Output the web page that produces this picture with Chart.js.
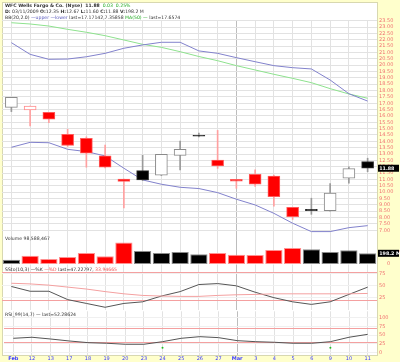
<!DOCTYPE html>
<html>
<head>
<meta charset="utf-8">
<script src="https://cdn.jsdelivr.net/npm/chart.js@4.4.1/dist/chart.umd.min.js"></script>
<style>
  html, body { margin: 0; padding: 0; background: #ffffcc; }
  #wrap { position: relative; width: 400px; height: 362px; overflow: hidden; font-family: 'DejaVu Sans', sans-serif; }
  #sheet { position: absolute; left: 2px; top: 2px; width: 374px; height: 352px; background: #fff; border: 1px solid #d8d8b0; }
  canvas { position: absolute; left: 0; }
  .lbl { position: absolute; left: 5px; font-size: 4.6px; line-height: 5px; white-space: nowrap; color: #333; }
  .g { color: #22aa22; }
  .b { color: #5555bb; }
  .r { color: #ee5555; }
</style>
</head>
<body>
<div id="wrap">
  <div id="sheet"></div>
  <canvas id="c-price" width="400" height="242" style="top:0"></canvas>
  <canvas id="c-vol" width="400" height="44" style="top:226px"></canvas>
  <canvas id="c-ss" width="400" height="56" style="top:258px"></canvas>
  <canvas id="c-rsi" width="400" height="56" style="top:306px"></canvas>

  <div class="lbl" style="top:3px"><b>WFC Wells Fargo &amp; Co. (Nyse)</b> &nbsp;<b>11.88</b> &nbsp;<span class="g">0.03 &nbsp;0.25%</span></div>
  <div class="lbl" style="top:9px"><b>D:</b> 03/11/2009 <b>O:</b>12.35 <b>H:</b>12.67 <b>L:</b>11.60 <b>C:</b>11.88 <b>V:</b>198.2 M</div>
  <div class="lbl" style="top:14.5px">BB(20,2.0) <span class="b">&mdash;upper &mdash;lower</span> last=17.17142,7.35858 <span class="g">MA(50)</span> <span class="g">&mdash;</span> last=17.6574</div>
  <div class="lbl" style="top:236px">Volume 98,588,467</div>
  <div class="lbl" style="top:267px">SSto(10,3) &mdash;%K <span class="r">&mdash;%D</span> last=47.22797, <span class="r">33.94665</span></div>
  <div class="lbl" style="top:312px">RSI_99(14,7) &mdash; last=52.28624</div>
</div>

<script>
// WFC daily, 11 Feb - 11 Mar 2009
const days = ['Feb', '12', '13', '17', '18', '19', '20', '23', '24', '25', '26', '27',
  'Mar', '3', '4', '5', '6', '9', '10', '11'];

const opens  = [16.68, 16.47, 16.29, 14.56, 14.24, 12.85, 11.03, 11.69, 11.34, 12.89, 14.48, 12.53, 11.00, 11.41, 11.27, 8.81, 8.65, 8.54, 11.09, 12.40];
const highs  = [17.47, 16.78, 16.29, 14.95, 14.35, 13.71, 11.03, 12.90, 12.97, 14.02, 14.65, 14.86, 11.00, 11.75, 11.35, 8.81, 9.52, 10.68, 12.00, 12.67];
const lows   = [16.34, 15.21, 15.47, 13.60, 11.96, 11.90, 8.75, 10.90, 11.30, 11.75, 14.35, 11.87, 10.30, 10.45, 8.90, 7.85, 8.25, 8.50, 10.70, 11.60];
const closes = [17.47, 16.78, 15.74, 13.67, 13.06, 11.96, 10.85, 10.96, 12.97, 13.36, 14.40, 12.06, 10.87, 10.62, 9.64, 8.07, 8.54, 9.92, 11.85, 11.88];

const bbUpper = [21.77, 20.85, 20.46, 20.48, 20.66, 20.93, 21.33, 21.59, 21.80, 21.80, 21.12, 20.93, 20.59, 20.27, 19.96, 19.80, 19.70, 18.83, 17.75, 17.17];
const bbLower = [13.53, 13.92, 13.89, 13.37, 13.19, 12.85, 11.88, 10.96, 10.62, 10.38, 10.28, 9.96, 9.44, 8.99, 8.33, 7.55, 6.89, 6.89, 7.20, 7.36];
const ma50 = [23.34, 23.24, 23.08, 22.82, 22.59, 22.32, 21.98, 21.64, 21.40, 21.06, 20.68, 20.35, 19.96, 19.62, 19.28, 18.96, 18.62, 18.15, 17.73, 17.39];

// millions of shares
const volume = [80, 155, 93, 130, 204, 142, 396, 241, 204, 223, 180, 204, 173, 167, 260, 297, 272, 223, 254, 198.2];

const stochK = [48.6, 38.5, 38.5, 20.9, 12.8, 4.7, 12.8, 16.2, 28.4, 37.8, 52.7, 54.7, 50.0, 36.5, 25.0, 16.2, 10.8, 16.2, 31.8, 47.2];
const stochD = [55.4, 54.0, 51.4, 47.3, 43.2, 37.8, 33.1, 29.7, 28.4, 27.7, 27.7, 29.7, 31.1, 31.8, 33.1, 33.1, 33.1, 33.1, 33.1, 33.9];

const rsi = [41, 44, 39, 33.4, 28.6, 26.9, 24, 24, 31.4, 41, 45.7, 42.9, 34.3, 31.4, 29.7, 26.9, 26.9, 31.4, 44, 52.3];
const rsiSignal = [null, null, null, null, null, null, null, null, 14, null, null, null, null, null, null, null, null, 14, null, null];

const stochTicks = [25, 50, 75];
const stochLevels = [80, 20];
const rsiTicks = [0, 25, 50, 75, 100];
const rsiLevels = [70, 30];

const C = {
  red: '#ff0000',
  redEdge: '#ff8c8c',
  black: '#000000',
  blackEdge: '#8a8a8a',
  band: '#8282cc',
  ma: '#8ee28e',
  grid: '#e2e2e2',
  gridDark: '#bdbdbd',
  axis: '#f07070',
  level: '#f4a0a0',
};

Chart.defaults.font.family = "'DejaVu Sans', sans-serif";
Chart.defaults.animation = false;
Chart.defaults.responsive = false;
Chart.defaults.plugins.legend.display = false;
Chart.defaults.plugins.tooltip.enabled = false;

const up = closes.map((c, i) => i === 0 || c >= closes[i - 1]);
const filled = closes.map((c, i) => c < opens[i]);
const fillCol = up.map((u, i) => (filled[i] ? (u ? C.black : C.red) : '#ffffff'));
const edgeCol = up.map((u, i) => (filled[i] ? (u ? '#333' : '#ff5a5a') : (u ? C.blackEdge : C.redEdge)));
const wickCol = up.map((u) => (u ? '#9a9a9a' : '#ffa0a0'));

// black tag with white text on the right axis
const tagPlugin = {
  id: 'tag',
  afterDraw(chart, args, opts) {
    if (opts.value == null) return;
    const { ctx } = chart;
    const y = chart.scales.y.getPixelForValue(opts.value);
    const x = chart.chartArea.right + 1;
    ctx.save();
    ctx.fillStyle = '#000';
    ctx.fillRect(x, y - 3.5, 21, 7);
    ctx.fillStyle = '#fff';
    ctx.font = "bold 4.8px 'DejaVu Sans', sans-serif";
    ctx.textBaseline = 'middle';
    ctx.fillText(opts.text, x + 1.2, y + 0.3);
    ctx.restore();
  },
};

// horizontal signal levels
const levelPlugin = {
  id: 'levels',
  beforeDatasetsDraw(chart, args, opts) {
    if (!opts.values) return;
    const { ctx, chartArea } = chart;
    ctx.save();
    ctx.strokeStyle = C.level;
    ctx.lineWidth = 1;
    opts.values.forEach((v) => {
      const y = Math.round(chart.scales.y.getPixelForValue(v)) + 0.5;
      ctx.beginPath();
      ctx.moveTo(chartArea.left, y);
      ctx.lineTo(chartArea.right, y);
      ctx.stroke();
    });
    ctx.restore();
  },
};

function xScale(showLabels) {
  return {
    display: true,
    offset: true,
    grid: {
      offset: false,
      drawTicks: false,
      color: (c) => (c.index === 12 ? C.gridDark : C.grid),
    },
    border: { display: false },
    ticks: showLabels ? {
      padding: 1,
      color: '#3b3bff',
      maxRotation: 0,
      autoSkip: false,
      font: (c) => ({ size: 5, weight: (c.index === 0 || c.index === 12) ? 'bold' : 'normal' }),
    } : { display: false },
    afterFit: (s) => { s.height = showLabels ? 7 : 0; },
  };
}

function yScale(min, max, extra = {}) {
  return {
    position: 'right',
    min,
    max,
    grid: { color: C.grid, drawTicks: false },
    border: { display: false },
    afterFit: (s) => { s.width = 23; },
    ...extra,
    ticks: {
      color: C.axis,
      padding: 2,
      autoSkip: false,
      font: { size: 5, lineHeight: 1 },
      ...(extra.ticks || {}),
    },
  };
}

new Chart(document.getElementById('c-price'), {
  type: 'bar',
  data: {
    labels: days,
    datasets: [
      { type: 'line', data: bbUpper, borderColor: C.band, borderWidth: 1, pointRadius: 0, order: 3 },
      { type: 'line', data: bbLower, borderColor: C.band, borderWidth: 1, pointRadius: 0, order: 3 },
      { type: 'line', data: ma50, borderColor: C.ma, borderWidth: 1, pointRadius: 0, order: 3 },
      {
        data: lows.map((l, i) => [l, highs[i]]),
        backgroundColor: wickCol,
        barThickness: 1,
        grouped: false,
        order: 2,
      },
      {
        data: opens.map((o, i) => [o, closes[i]]),
        backgroundColor: fillCol,
        borderColor: edgeCol,
        borderWidth: 1,
        borderSkipped: false,
        barThickness: 12,
        grouped: false,
        order: 1,
      },
    ],
  },
  options: {
    layout: { padding: { left: 2, top: 20, right: 0, bottom: 9 } },
    scales: {
      x: xScale(false),
      y: yScale(6.78, 23.555, {
        ticks: { stepSize: 0.5, includeBounds: false, maxTicksLimit: 100, callback: (v) => v.toFixed(2) },
      }),
    },
    plugins: { tag: { value: closes[closes.length - 1], text: closes[closes.length - 1].toFixed(2) } },
  },
  plugins: [tagPlugin],
});

new Chart(document.getElementById('c-vol'), {
  type: 'bar',
  data: {
    labels: days,
    datasets: [{
      data: volume,
      backgroundColor: up.map((u) => (u ? C.black : C.red)),
      borderColor: up.map((u) => (u ? '#8a8a8a' : '#ff9090')),
      borderWidth: 1,
      borderSkipped: false,
      categoryPercentage: 1,
      barPercentage: 0.92,
    }],
  },
  options: {
    layout: { padding: { left: 2, top: 7, right: 0, bottom: 6 } },
    scales: {
      x: xScale(false),
      y: yScale(0, 574, {
        grid: { display: false },
        afterBuildTicks: (s) => { s.ticks = [{ value: 0 }, { value: 200 }]; },
        ticks: { callback: (v) => (v === 0 ? '0' : v + 'M') },
      }),
    },
    plugins: { tag: { value: volume[volume.length - 1], text: volume[volume.length - 1].toFixed(1) + ' M' } },
  },
  plugins: [tagPlugin],
});

new Chart(document.getElementById('c-ss'), {
  type: 'line',
  data: {
    labels: days,
    datasets: [
      { data: stochD, borderColor: '#f4a0a0', borderWidth: 1, pointRadius: 0 },
      { data: stochK, borderColor: '#555555', borderWidth: 1, pointRadius: 0 },
    ],
  },
  options: {
    layout: { padding: { left: 2, top: 6.5, right: 0, bottom: 2.7 } },
    scales: {
      x: xScale(false),
      y: yScale(0, 95, {
        afterBuildTicks: (s) => { s.ticks = stochTicks.map((v) => ({ value: v })); },
        grid: { color: '#f0f0f0', drawTicks: false },
      }),
    },
    plugins: { levels: { values: stochLevels } },
  },
  plugins: [levelPlugin],
});

new Chart(document.getElementById('c-rsi'), {
  type: 'line',
  data: {
    labels: days,
    datasets: [
      { data: rsi, borderColor: '#555555', borderWidth: 1, pointRadius: 0 },
      { data: rsiSignal, showLine: false, pointRadius: 1, pointBorderWidth: 0, pointBackgroundColor: '#22bb22' },
    ],
  },
  options: {
    layout: { padding: { left: 2, top: 5.3, right: 0, bottom: 0 } },
    scales: {
      x: xScale(true),
      y: yScale(-6.6, 118, {
        afterBuildTicks: (s) => { s.ticks = rsiTicks.map((v) => ({ value: v })); },
        grid: { color: '#f0f0f0', drawTicks: false },
      }),
    },
    plugins: { levels: { values: rsiLevels } },
  },
  plugins: [levelPlugin],
});
</script>
</body>
</html>
